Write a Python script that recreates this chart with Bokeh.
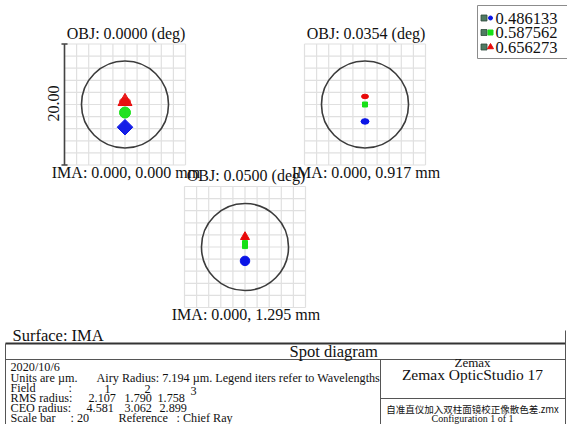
import math
from bokeh.plotting import figure
from bokeh.models import Range1d, Label
from bokeh.embed import file_html
from bokeh.resources import INLINE

# ---------------- data ----------------
wavelengths = [0.486133, 0.587562, 0.656273]
wave_colors = ["#0a14e6", "#16e016", "#e80a0a"]
field_deg = [0.0000, 0.0354, 0.0500]
ima_x_mm = [0.000, 0.000, 0.000]
ima_y_mm = [0.000, 0.917, 1.295]
# spot centroid offsets (um) relative to chief ray, per field, order: blue, green, red
spot_x_f1 = [0.0, 0.0, 0.0]
spot_y_f1 = [-3.75, -1.33, 0.50]
spot_x_f2 = [0.0, 0.0, 0.0]
spot_y_f2 = [-2.80, 0.00, 1.33]
spot_x_f3 = [0.0, 0.0, 0.0]
spot_y_f3 = [-2.30, 0.40, 1.67]
rms_radius = [2.107, 1.790, 1.758]
geo_radius = [4.581, 3.062, 2.899]
airy_radius = 7.194
scale_bar = 20
grid_divisions = 10
date_str = "2020/10/6"
file_name = "自准直仪加入双柱面镜校正像散色差.zmx"
program = "Zemax OpticStudio 17"

FONT = "Liberation Serif"
TXT = "#111111"

p = figure(width=567, height=424, x_range=Range1d(0, 567), y_range=Range1d(424, 0),
           output_backend="svg", toolbar_location=None, min_border=0,
           x_axis_location=None, y_axis_location=None)
p.xgrid.visible = False
p.ygrid.visible = False
p.outline_line_color = None
p.background_fill_color = "white"
p.border_fill_color = "white"


def label(x, y, text, size="16px", align="left", angle=0, baseline="middle", font=FONT):
    p.add_layout(Label(x=x, y=y, text=text, text_font=font, text_font_size=size,
                       text_align=align, text_baseline=baseline, text_color=TXT,
                       angle=angle, angle_units="deg"))


half = scale_bar / 2
step = scale_bar / grid_divisions
ticks = [-half + k * step for k in range(grid_divisions + 1)]

# layout: panel centres on the page (px) and half size (px)
panel_centres = [(124.5, 104.0), (364.5, 104.0), (244.5, 246.5)]
HS = 60.5

spots = [(spot_x_f1, spot_y_f1), (spot_x_f2, spot_y_f2), (spot_x_f3, spot_y_f3)]

subs = []
for i, (cx, cy) in enumerate(panel_centres):
    sub = p.subplot(x_source=Range1d(-half, half), y_source=Range1d(-half, half),
                    x_target=Range1d(cx - HS, cx + HS), y_target=Range1d(cy + HS, cy - HS))
    n = len(ticks)
    sub.segment(x0=ticks, y0=[-half] * n, x1=ticks, y1=[half] * n,
                line_color="#e0e0e0", line_width=1.2)
    sub.segment(x0=[-half] * n, y0=ticks, x1=[half] * n, y1=ticks,
                line_color="#e0e0e0", line_width=1.2)
    sub.circle(x=[0], y=[0], radius=airy_radius, fill_color=None,
               line_color="#3c3c3c", line_width=1.6)
    subs.append(sub)

# field 1 spots
sx, sy = spots[0]
s = subs[0]
s.scatter(x=[sx[0]], y=[sy[0]], marker="square", size=11, angle=math.pi / 4,
          fill_color=wave_colors[0], line_color=wave_colors[0], fill_alpha=0.95)
s.scatter(x=[sx[1]], y=[sy[1]], marker="circle", size=11,
          fill_color=wave_colors[1], line_color=wave_colors[1], fill_alpha=0.95)
s.scatter(x=[sx[2]], y=[sy[2]], marker="triangle", size=14,
          fill_color=wave_colors[2], line_color=wave_colors[2], fill_alpha=0.9)
s.ellipse(x=[sx[2]], y=[sy[2]], width=12, height=8, width_units="screen", height_units="screen",
          fill_color=wave_colors[2], line_color=None, fill_alpha=0.75)

# field 2 spots
sx, sy = spots[1]
s = subs[1]
s.ellipse(x=[sx[0]], y=[sy[0]], width=8, height=5.5, width_units="screen", height_units="screen",
          fill_color=wave_colors[0], line_color=wave_colors[0])
s.scatter(x=[sx[1]], y=[sy[1]], marker="square", size=5,
          fill_color=wave_colors[1], line_color=wave_colors[1])
s.ellipse(x=[sx[2]], y=[sy[2]], width=7, height=4.5, width_units="screen", height_units="screen",
          fill_color=wave_colors[2], line_color=wave_colors[2])

# field 3 spots
sx, sy = spots[2]
s = subs[2]
s.scatter(x=[sx[0]], y=[sy[0]], marker="circle", size=9.5,
          fill_color=wave_colors[0], line_color=wave_colors[0])
s.rect(x=[sx[1]], y=[sy[1]], width=5, height=8, width_units="screen", height_units="screen",
       fill_color=wave_colors[1], line_color=wave_colors[1])
s.scatter(x=[sx[2]], y=[sy[2]], marker="triangle", size=9,
          fill_color=wave_colors[2], line_color=wave_colors[2])

# scale bar on first panel
s = subs[0]
s.segment(x0=[-half], y0=[-half], x1=[-half], y1=[half], line_color="#444444", line_width=1.6)
s.segment(x0=[-half - 0.5, -half - 0.5], y0=[-half, half], x1=[-half + 0.5, -half + 0.5],
          y1=[-half, half], line_color="#444444", line_width=1.6)
label(53, 103, f"{scale_bar:.2f}", angle=90, align="center")

# panel titles
for i, (cx, cy) in enumerate(panel_centres):
    label(cx + 1, cy - HS - 11, f"OBJ: {field_deg[i]:.4f} (deg)", align="center")
    label(cx + 1, cy + HS + 7, f"IMA: {ima_x_mm[i]:.3f}, {ima_y_mm[i]:.3f} mm", align="center")

# legend
p.quad(left=[477], right=[570], top=[5], bottom=[58], fill_color="white",
       line_color="#8c8c8c", line_width=1)
leg_markers = ["circle", "square", "triangle"]
leg_sizes = [4, 5, 6]
for k, wl in enumerate(wavelengths):
    yy = 17.5 + k * 14.5
    p.scatter(x=[483.5], y=[yy], marker="square", size=6, fill_color="#4f7a62",
              line_color="#2f4a3a", line_width=0.8)
    p.scatter(x=[490], y=[yy], marker=leg_markers[k], size=leg_sizes[k],
              fill_color=wave_colors[k], line_color=wave_colors[k])
    label(495, yy, f"{wl:.6f}", size="16.5px")

# surface
label(12, 335, "Surface: IMA", size="16.5px")

# table frame
p.segment(x0=[5], y0=[343], x1=[565], y1=[343], line_color="#333333", line_width=2)
p.segment(x0=[5, 565], y0=[343, 330], x1=[5, 565], y1=[424, 424], line_color="#555555", line_width=1)
p.segment(x0=[5], y0=[359], x1=[565], y1=[359], line_color="#555555", line_width=1)
p.segment(x0=[380], y0=[359], x1=[380], y1=[424], line_color="#555555", line_width=1)
p.segment(x0=[380], y0=[398], x1=[565], y1=[398], line_color="#555555", line_width=1)
label(289, 351, "Spot diagram", size="16.5px")

TS = "12.2px"
label(10, 366, date_str, size=TS)
label(10, 377, "Units are µm.", size=TS)
label(96, 377, f"Airy Radius: {airy_radius:.3f} µm. Legend iters refer to Wavelengths", size=TS)
label(10, 387, "Field", size=TS)
label(68, 387, ":", size=TS)
for xx, f in zip([104, 144, 190], range(1, 4)):
    label(xx, 388 + (2 if f == 3 else 0), str(f), size=TS)
label(10, 397, "RMS radius:", size=TS)
for xx, v in zip([88, 124, 157], rms_radius):
    label(xx, 397, f"{v:.3f}", size=TS)
label(10, 407, "CEO radius:", size=TS)
for xx, v in zip([86, 124, 159], geo_radius):
    label(xx, 407, f"{v:.3f}", size=TS)
label(10, 417, "Scale bar", size=TS)
label(70, 417, f": {scale_bar}", size=TS)
label(118, 417, "Reference", size=TS)
label(176, 417, ":  Chief Ray", size=TS)

label(472, 362, "Zemax", size="13px", align="center")
label(472, 374, program, size="15.5px", align="center")
label(472, 408, file_name, size="9.5px", align="center", font="Noto Sans CJK SC")
label(472, 418, "Configuration 1 of 1", size="10px", align="center")

open("out.html", "w").write(file_html(p, INLINE))
